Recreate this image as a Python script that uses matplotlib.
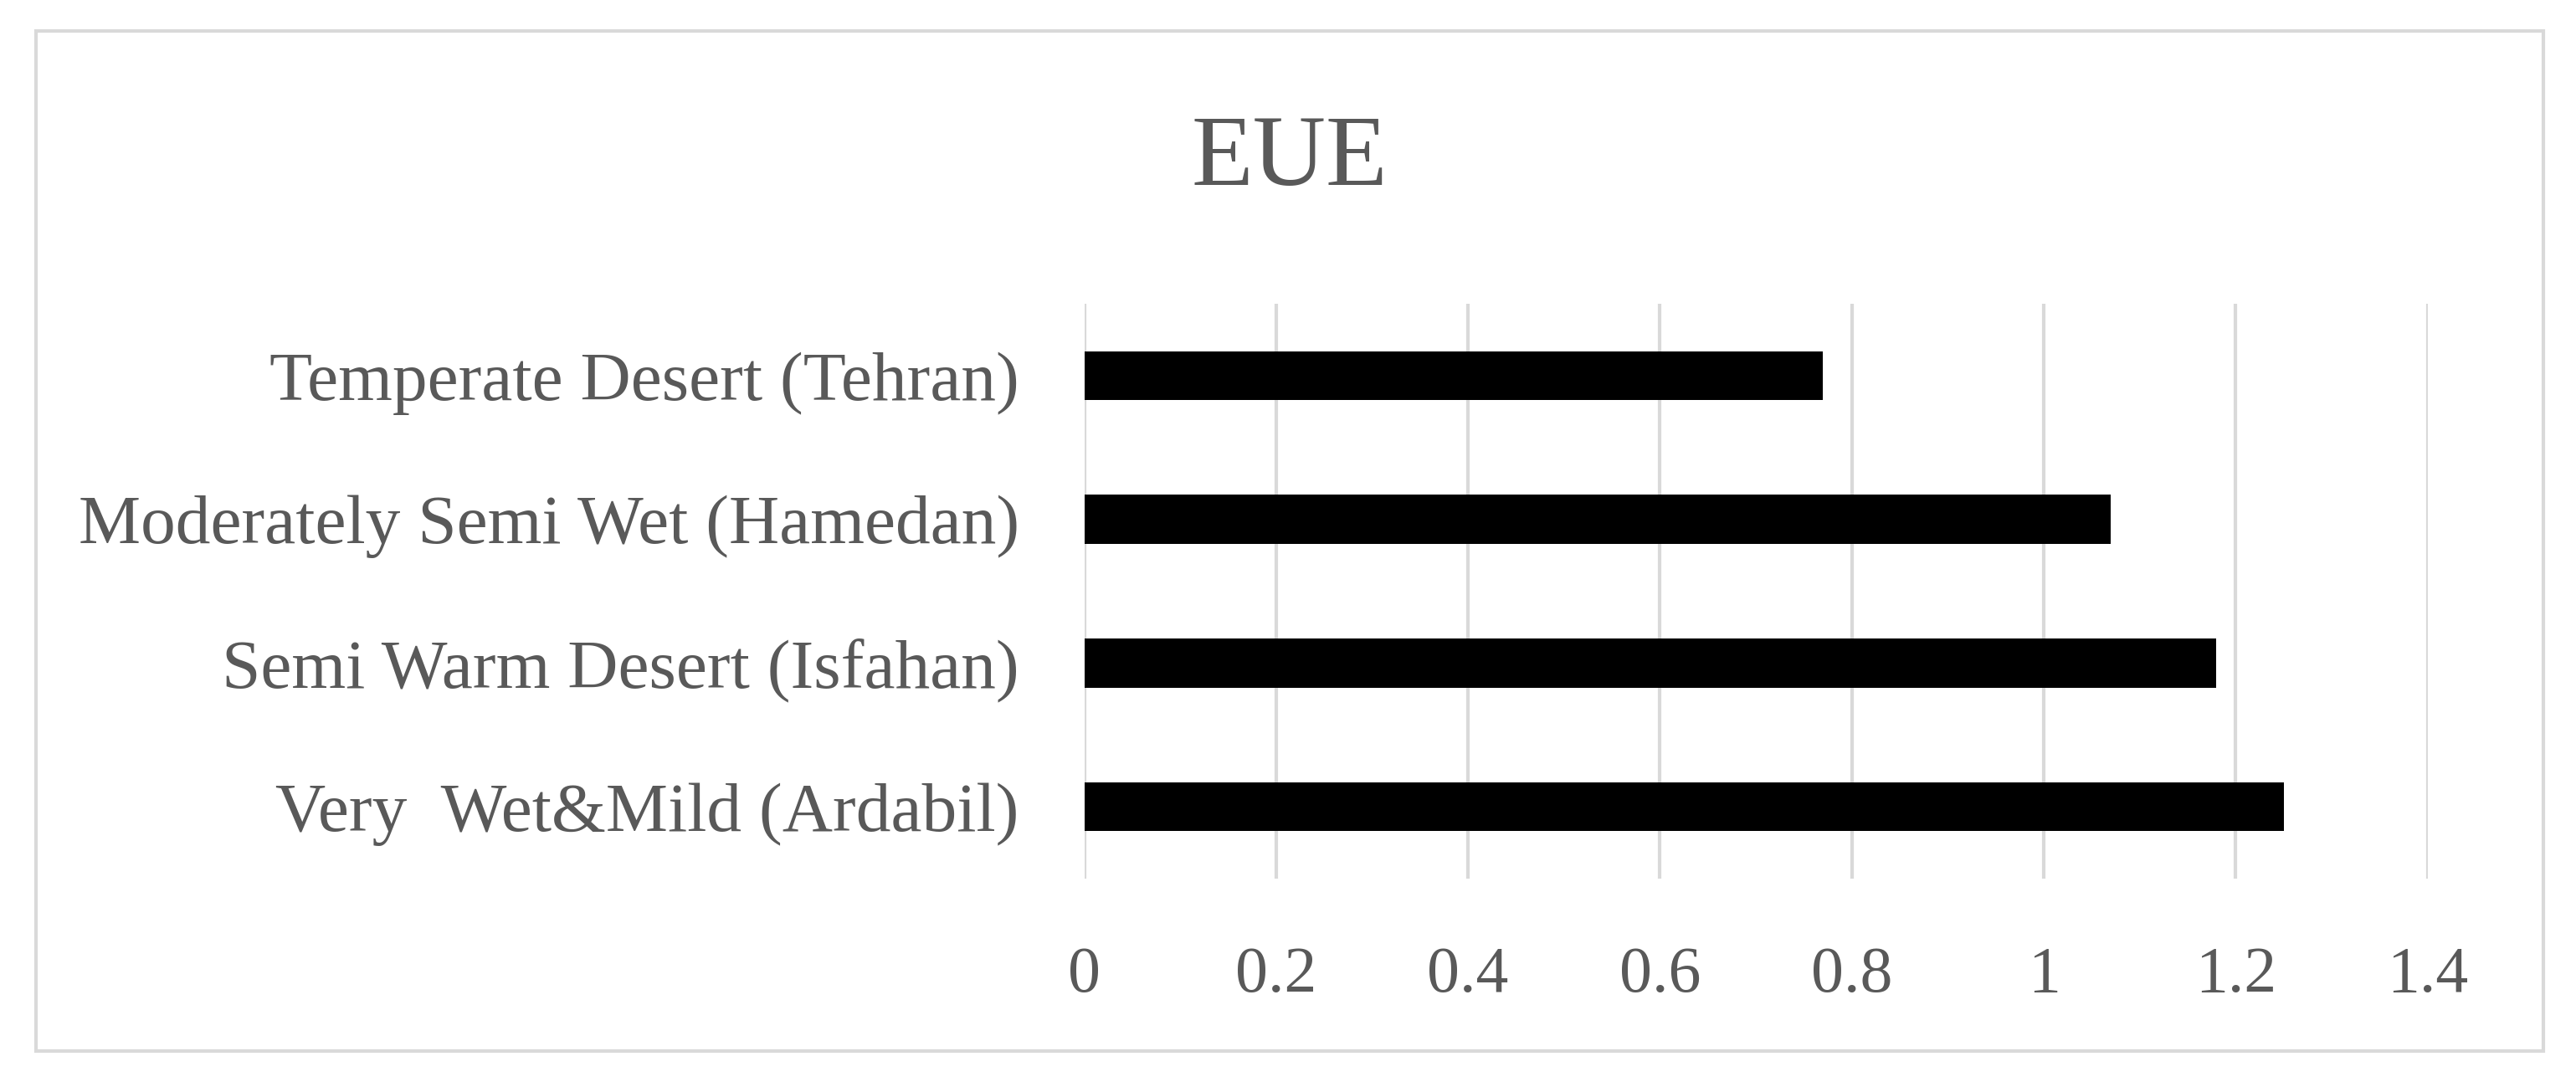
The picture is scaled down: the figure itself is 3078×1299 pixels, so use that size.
import matplotlib.pyplot as plt
from matplotlib.patches import Rectangle

# data
categories = ['Very  Wet&Mild (Ardabil)', 'Semi Warm Desert (Isfahan)',
              'Moderately Semi Wet (Hamedan)', 'Temperate Desert (Tehran)']
eue = [1.25, 1.18, 1.07, 0.77]
xticks = [0, 0.2, 0.4, 0.6, 0.8, 1, 1.2, 1.4]
xticklabels = ['0', '0.2', '0.4', '0.6', '0.8', '1', '1.2', '1.4']

txt = '#595959'
grid = '#d9d9d9'
plt.rcParams['font.family'] = ['Liberation Serif', 'DejaVu Serif']

fig = plt.figure(figsize=(15.39, 6.495), dpi=200)
ax = fig.add_axes([0.4209, 0.1917, 0.5215, 0.5289])

ax.barh(range(len(categories)), eue, height=0.34, color='black', zorder=3)

ax.set_xlim(0, 1.4)
ax.set_ylim(-0.5, len(categories) - 0.5)
ax.set_xticks(xticks)
ax.set_xticklabels(xticklabels)
ax.set_yticks(range(len(categories)))
ax.set_yticklabels(categories)
ax.tick_params(axis='x', length=0, pad=29, labelsize=28, labelcolor=txt)
ax.tick_params(axis='y', length=0, pad=28, labelsize=30, labelcolor=txt)
ax.grid(axis='x', color=grid, linewidth=1.5, zorder=0)
for s in ax.spines.values():
    s.set_visible(False)

# outer chart border
fig.patches.append(Rectangle((43 / 3078, 1 - 1256 / 1299), (3039 - 43) / 3078,
                             (1256 - 37) / 1299, transform=fig.transFigure,
                             fill=False, edgecolor=grid, linewidth=1.5))

fig.text(0.5007, 1 - 192 / 1299, 'EUE', ha='center', va='center',
         fontsize=43.5, color=txt)

fig.savefig('out.png', dpi=200, facecolor='white')
